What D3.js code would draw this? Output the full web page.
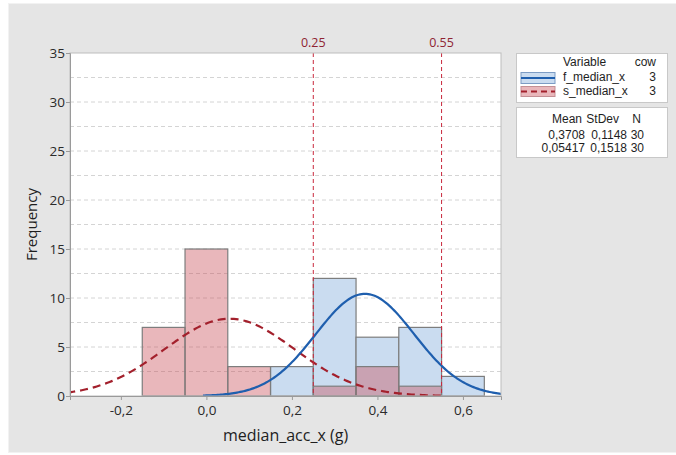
<!DOCTYPE html>
<html><head><meta charset="utf-8">
<script src="https://cdn.jsdelivr.net/npm/d3@7"></script>
<style>
html,body{margin:0;padding:0;background:#fff;}
svg text{font-family:"Open Sans","Noto Sans",sans-serif;}
svg g.lg text{font-family:"Liberation Sans",Arial,sans-serif;}
</style></head>
<body><svg id="c" width="676" height="455"></svg>
<script>
// ---- data ----
const binEdges = [-0.15,-0.05,0.05,0.15,0.25,0.35,0.45,0.55,0.65];
const fCounts = [0,0,0,3,12,6,7,2];      // f_median_x
const sCounts = [7,15,3,0,1,3,1,0];      // s_median_x
const seriesNames = ["f_median_x","s_median_x"];
const cowValues = [3,3];
const means = [0.3708,0.05417];
const meanLabels = ["0,3708","0,05417"];
const stdevs = [0.1148,0.1518];
const stdevLabels = ["0,1148","0,1518"];
const ns = [30,30];
const refLines = [0.25,0.55];
const refLabels = ["0.25","0.55"];
const xTicks = [-0.2,0,0.2,0.4,0.6];
const xTickLabels = ["-0,2","0,0","0,2","0,4","0,6"];
const yTicks = [0,5,10,15,20,25,30,35];
const yGrid = [2.5,5,7.5,10,12.5,15,17.5,20,22.5,25,27.5,30,32.5];

const svg = d3.select("#c");
svg.append("rect").attr("x",0).attr("y",0).attr("width",676).attr("height",455).attr("fill","#ffffff");
svg.append("rect").attr("x",8.5).attr("y",3.5).attr("width",670).attr("height",449)
  .attr("fill","#e5e5e5").attr("stroke","#f2f2f2");

const L=70,R=501,T=53,B=396;
const x = d3.scaleLinear().domain([-0.319,0.689]).range([L,R]);
const y = d3.scaleLinear().domain([0,35]).range([B,T]);

svg.append("rect").attr("x",L).attr("y",T).attr("width",R-L).attr("height",B-T).attr("fill","#fff");

svg.append("g").selectAll("line").data(yGrid).join("line")
  .attr("x1",L).attr("x2",R).attr("y1",d=>y(d)).attr("y2",d=>y(d))
  .attr("stroke","#d4d4d4").attr("stroke-width",1).attr("stroke-dasharray","4,3");

svg.append("clipPath").attr("id","pc").append("rect")
  .attr("x",L).attr("y",T).attr("width",R-L).attr("height",B-T);
const plot = svg.append("g").attr("clip-path","url(#pc)");

function bars(counts, fill, op){
  const data = counts.map((c,i)=>({x0:binEdges[i],x1:binEdges[i+1],c})).filter(d=>d.c>0);
  plot.append("g").selectAll("rect").data(data).join("rect")
    .attr("x",d=>x(d.x0)).attr("width",d=>x(d.x1)-x(d.x0))
    .attr("y",d=>y(d.c)).attr("height",d=>y(0)-y(d.c))
    .attr("fill",fill).attr("fill-opacity",op)
    .attr("stroke","#7d7d7d").attr("stroke-width",1.2);
}
bars(fCounts,"#cadcf0",1);
bars(sCounts,"rgb(200,75,85)",0.4);

const bw = 0.1;
function curve(m,s,n){
  const pts=[];
  const a=m-3.3*s, b=m+3.3*s;
  for(let i=0;i<=200;i++){const v=a+(b-a)*i/200;
    pts.push([v, n*bw*Math.exp(-0.5*((v-m)/s)**2)/(s*Math.sqrt(2*Math.PI))]);}
  return pts;
}
const line = d3.line().x(d=>x(d[0])).y(d=>y(d[1]));
plot.append("path").attr("d",line(curve(means[1],stdevs[1],ns[1])))
  .attr("fill","none").attr("stroke","#a3202c").attr("stroke-width",2.2).attr("stroke-dasharray","8,5");
plot.append("path").attr("d",line(curve(means[0],stdevs[0],ns[0])))
  .attr("fill","none").attr("stroke","#1f5fae").attr("stroke-width",2.2);

svg.append("g").selectAll("line").data(refLines).join("line")
  .attr("x1",d=>x(d)).attr("x2",d=>x(d)).attr("y1",T).attr("y2",B)
  .attr("stroke","#c8283c").attr("stroke-width",1).attr("stroke-dasharray","4,3");
svg.append("g").selectAll("text").data(refLines).join("text")
  .attr("x",d=>x(d)).attr("y",47).attr("text-anchor","middle")
  .attr("font-size",12.5).attr("fill","#8f2433").text((d,i)=>refLabels[i]);

svg.append("rect").attr("x",L).attr("y",T).attr("width",R-L).attr("height",B-T)
  .attr("fill","none").attr("stroke","#bdbdbd");

const xa = svg.append("g").attr("transform",`translate(0,${B})`)
  .call(d3.axisBottom(x).tickValues(xTicks).tickSize(4).tickFormat((d,i)=>xTickLabels[i]));
const ya = svg.append("g").attr("transform",`translate(${L},0)`)
  .call(d3.axisLeft(y).tickValues(yTicks).tickSize(4).tickFormat(d3.format("d")));
[xa,ya].forEach(g=>{
  g.select(".domain").attr("stroke","#9a9a9a");
  g.selectAll(".tick line").attr("stroke","#9a9a9a");
  g.selectAll(".tick text").attr("font-size",13.5).attr("fill","#2a2a2a")
    .style("font-family",'"Open Sans","Noto Sans",sans-serif');
});
xa.selectAll(".tick text").attr("dy","0.9em");
ya.selectAll(".tick text").attr("x",-5);

svg.append("text").attr("x",(L+R)/2).attr("y",441).attr("text-anchor","middle")
  .attr("font-size",16).attr("fill","#1e1e1e").text("median_acc_x (g)");
svg.append("text").attr("transform",`translate(37,${(T+B)/2}) rotate(-90)`)
  .attr("text-anchor","middle").attr("font-size",15).attr("fill","#1e1e1e").text("Frequency");

const lg = svg.append("g").attr("class","lg").attr("font-size",12).attr("fill","#1e1e1e");
lg.append("rect").attr("x",516.5).attr("y",53.5).attr("width",151).attr("height",49)
  .attr("fill","#fff").attr("stroke","#c8c8c8");
lg.append("text").attr("x",563).attr("y",66).text("Variable");
lg.append("text").attr("x",656).attr("y",66).attr("text-anchor","end").text("cow");
const rowY=[80.5,94.5];
seriesNames.forEach((n,i)=>{
  lg.append("text").attr("x",563).attr("y",rowY[i]).text(n);
  lg.append("text").attr("x",656).attr("y",rowY[i]).attr("text-anchor","end").text(cowValues[i]);
});
lg.append("rect").attr("x",521).attr("y",72.5).attr("width",34).attr("height",11)
  .attr("fill","#cadcf0").attr("stroke","#7d9cc4");
lg.append("line").attr("x1",521).attr("x2",555).attr("y1",78).attr("y2",78)
  .attr("stroke","#1f5fae").attr("stroke-width",2);
lg.append("rect").attr("x",521).attr("y",86.5).attr("width",34).attr("height",10)
  .attr("fill","#e9b7bb").attr("stroke","#c49095");
lg.append("line").attr("x1",521).attr("x2",555).attr("y1",91.5).attr("y2",91.5)
  .attr("stroke","#a3202c").attr("stroke-width",2).attr("stroke-dasharray","6,4");

lg.append("rect").attr("x",516.5).attr("y",107.5).attr("width",151).attr("height",50)
  .attr("fill","#fff").attr("stroke","#c8c8c8");
const headX=[582,619,641];
["Mean","StDev","N"].forEach((h,j)=>lg.append("text").attr("x",headX[j]).attr("y",123)
  .attr("text-anchor","end").text(h));
const colX=[585,627,644];
const statY=[138.5,152];
meanLabels.forEach((m,i)=>{
  lg.append("text").attr("x",colX[0]).attr("y",statY[i]).attr("text-anchor","end").text(m);
  lg.append("text").attr("x",colX[1]).attr("y",statY[i]).attr("text-anchor","end").text(stdevLabels[i]);
  lg.append("text").attr("x",colX[2]).attr("y",statY[i]).attr("text-anchor","end").text(ns[i]);
});
</script></body></html>
